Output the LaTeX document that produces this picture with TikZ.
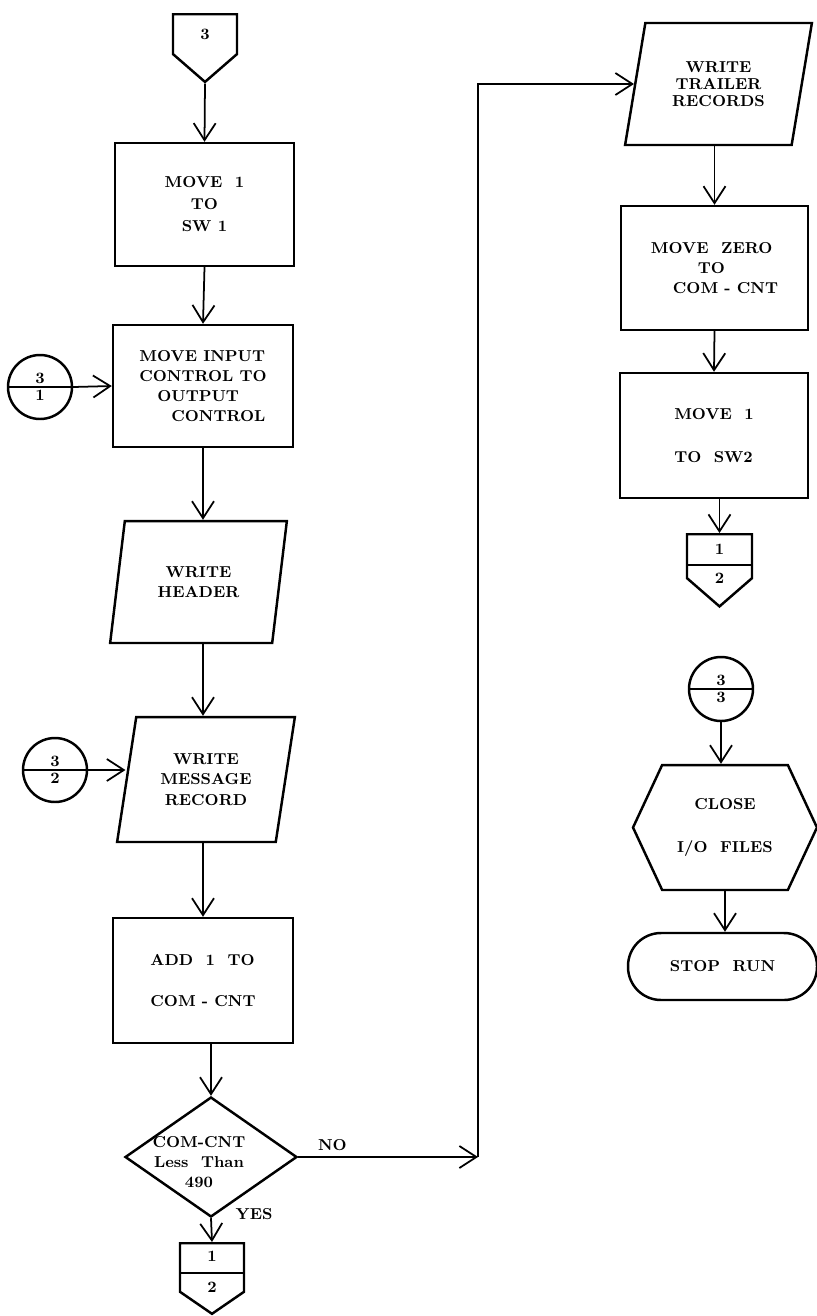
\documentclass[tikz,border=0pt]{standalone}
\usepackage{amsmath, amssymb}
\usepackage{tikz}
\usetikzlibrary{arrows.meta}
\usetikzlibrary{shapes.geometric, shapes.symbols, shapes.multipart}
\usetikzlibrary{calc}
\tikzset{
    >={Straight Barb[length=3.4mm,width=4.4mm]},
    every node/.append style={font=\fontsize{9}{11.5}\selectfont\bfseries},
    line/.style={line width=1pt},
    flow/.style={draw, line width=1.4pt, inner sep=2pt},
    procbox/.style={flow, rectangle},
    iobox/.style={flow, trapezium, trapezium stretches=true},
    offpage/.style={flow, signal, signal to=south, signal from=nowhere},
    joint/.style={flow, circle split, minimum size=1.28cm, inner sep=1pt},
    prepbox/.style={flow, signal, signal to=east and west, signal pointer angle=130},
    termbox/.style={flow, rectangle, rounded corners=0.66cm}}

\begin{document}
\begin{tikzpicture}[x=0.02cm, y=-0.02cm]

                    \useasboundingbox (0,0) rectangle (817,1316);

                    \node[offpage, signal pointer angle=98, minimum width=1.28cm, minimum height=0.94cm, anchor=north] (A) at (205,13) {3};
                    \node[procbox, minimum width=3.58cm, minimum height=2.46cm, align=center] (B) at (204.5,204.5) {MOVE\ \ 1\\[1pt]TO\\[1pt]SW 1};
                    \node[procbox, minimum width=3.6cm, minimum height=2.44cm, align=left] (C) at (203,386) {MOVE INPUT\\CONTROL TO\\\hspace*{0.36cm}OUTPUT\\\hspace*{0.64cm}CONTROL};
                    \node[joint] (S) at (40,387) {3\nodepart{lower}1};
                    \node[iobox, trapezium left angle=77, trapezium right angle=103, minimum width=3.54cm, minimum height=2.44cm, align=center] (E) at (198.5,582) {WRITE\\HEADER};
                    \node[iobox, trapezium left angle=77, trapezium right angle=103, minimum width=3.56cm, minimum height=2.5cm, align=center] (F) at (206,779.5) {WRITE\\MESSAGE\\RECORD};
                    \node[joint] (T) at (55,770) {3\nodepart{lower}2};
                    \node[procbox, minimum width=3.6cm, minimum height=2.5cm, align=left] (G) at (203,980.5) {ADD\ \ 1\ \ TO\\[0.4cm]COM - CNT};
                    \node[flow, diamond, minimum width=3.44cm, minimum height=2.4cm, inner sep=0pt] (H) at (211,1157) {};
                    \node[align=center] (I) at (199,1162) {COM-CNT\\Less\ \ Than\\490};
                    \node[offpage, signal pointer angle=111, minimum width=1.28cm, minimum height=1.02cm, anchor=north] (J) at (212,1242) {};
                    \node (J1) at ($(J.north)+(0,14)$) {1};
                    \node (J2) at ($(J.north)+(0,45)$) {2};
                    \coordinate (U) at (478,1157);

                    \node[iobox, trapezium left angle=75, trapezium right angle=105, minimum width=3.74cm, minimum height=2.44cm, align=center, font=\fontsize{9}{9.5}\selectfont\bfseries] (K) at (718.5,84) {WRITE\\TRAILER\\RECORDS};
                    \node[procbox, minimum width=3.74cm, minimum height=2.48cm, align=left] (L) at (714.5,268) {MOVE\ \ ZERO\\\hspace*{0.94cm}TO\\\hspace*{0.44cm}COM - CNT};
                    \node[procbox, minimum width=3.76cm, minimum height=2.5cm, align=left] (M) at (714,435.5) {MOVE\ \ 1\\[0.45cm]TO\ \ SW2};
                    \node[offpage, signal pointer angle=98, minimum width=1.3cm, minimum height=0.94cm, anchor=north] (N) at (719.5,533) {};
                    \node (N1) at ($(N.north)+(0,16)$) {1};
                    \node (N2) at ($(N.north)+(0,45)$) {2};
                    \node[joint] (P) at (721,689) {3\nodepart{lower}3};
                    \node[prepbox, minimum width=3.68cm, minimum height=2.5cm, align=center] (Q) at (725,827.5) {CLOSE\\[0.45cm]I/O\ \ FILES};
                    \node[termbox, minimum width=3.78cm, minimum height=1.34cm] (R) at (722.5,966.5) {STOP\ \ RUN};

                    \draw[line, ->] (A.south) -- (B.north);
                    \draw[line, ->] (B.south) -- (C.north);
                    \draw[line, ->] (S.east) -- (C.west);
                    \draw[line, ->] (C.south) -- (C.south |- E.top side);
                    \draw[line, ->] (E.bottom side -| C.south) -- (C.south |- F.top side);
                    \draw[line, ->] (T.east) -- (T.east -| F.left side);
                    \draw[line, ->] (F.bottom side -| G.north) -- (G.north);
                    \draw[line, ->] (H.north |- G.south) -- (H.north);
                    \draw[line, ->] (H.south) -- (J.north) node[pos=0, right, xshift=0.36cm, yshift=0.08cm] {YES};
                    \draw[flow] ($(J.north)+(-32,31)$) -- ($(J.north)+(32,31)$);
                    \draw[line, ->] (H.east) -- (U) node[pos=0.19, above] {NO};
                    \draw[line, ->] (U) -- (U |- K.left side) -- (K.left side);

                    \draw[line, ->] (L.north |- K.bottom side) -- (L.north);
                    \draw[line, ->] (L.south) -- (M.north);
                    \draw[line, ->] (M.south -| N.north) -- (N.north);
                    \draw[flow] ($(N.north)+(-32.5,32)$) -- ($(N.north)+(32.5,32)$);
                    \draw[line, ->] (P.south) -- (P.south |- Q.north);
                    \draw[line, ->] (Q.south) -- (Q.south |- R.north);

                \end{tikzpicture}
\end{document}
